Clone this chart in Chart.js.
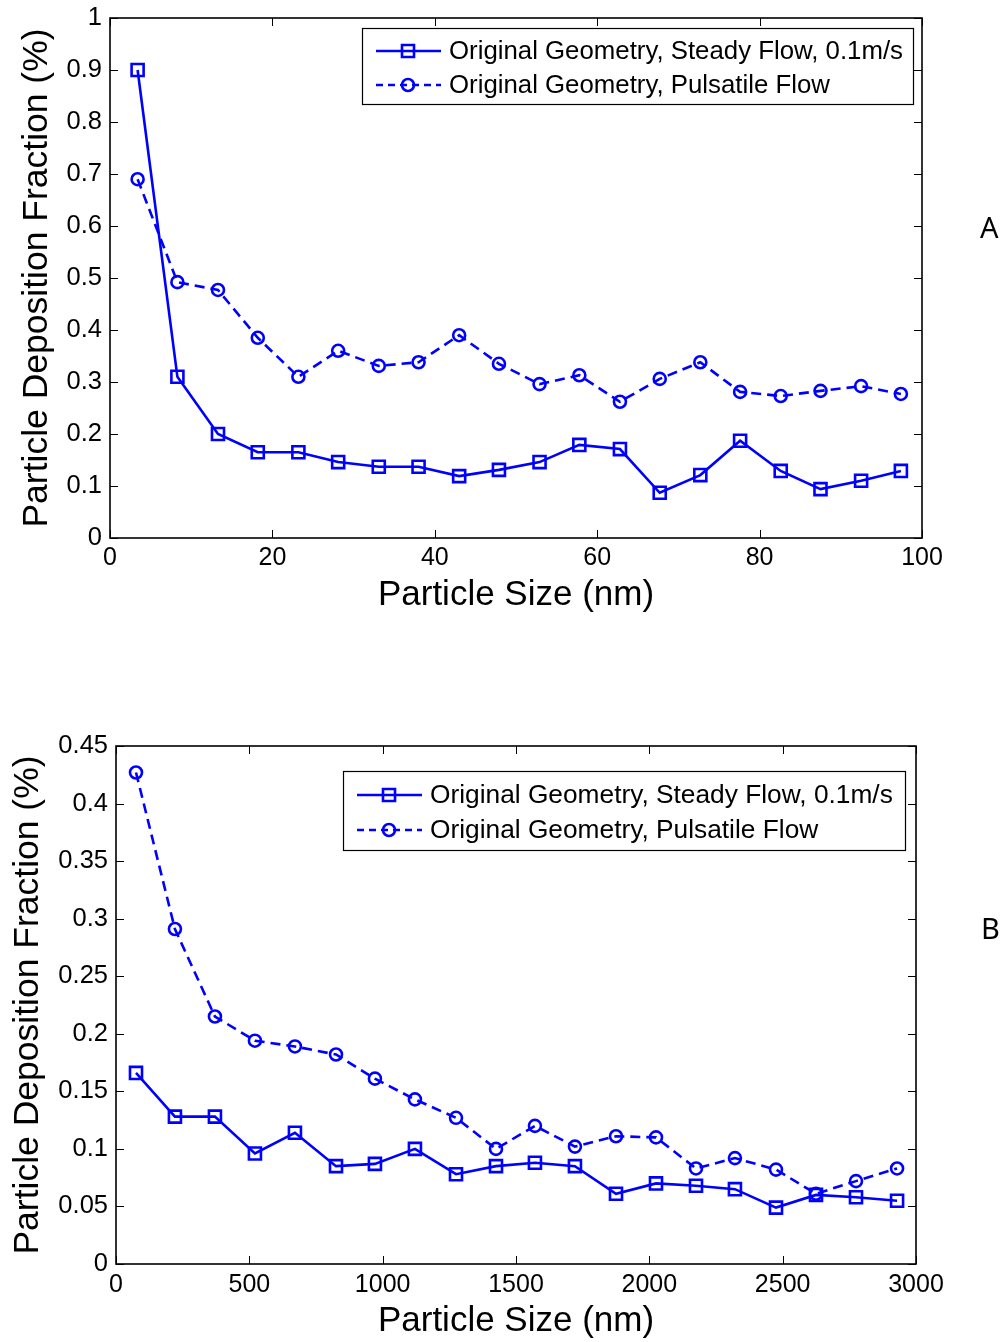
<!DOCTYPE html>
<html>
<head>
<meta charset="utf-8">
<title>Particle Deposition Fraction</title>
<script src="https://cdn.jsdelivr.net/npm/chart.js@4.4.1/dist/chart.umd.min.js"></script>
<style>
  html, body { margin: 0; padding: 0; background: #fff; }
  body { position: relative; width: 1006px; height: 1342px; overflow: hidden; }
  .plot { position: absolute; left: 0; }
  .panel-tag { position: absolute; font-family: "Noto Sans", "Open Sans", sans-serif; font-size: 29px; color: #000; line-height: 1; }
</style>
</head>
<body>
<div class="plot" style="top:0;"><canvas id="chartA" width="1006" height="640"></canvas></div>
<div class="plot" style="top:700px;"><canvas id="chartB" width="1006" height="642"></canvas></div>
<div class="panel-tag" style="left:980px; top:212px;">A</div>
<div class="panel-tag" style="left:981px; top:913px;">B</div>

<script>
// Panel A - nanometre particles
var sizeNmA      = [3.4, 8.3, 13.3, 18.2, 23.2, 28.1, 33.1, 38.0, 43.0, 47.9, 52.9, 57.8, 62.8, 67.7, 72.7, 77.6, 82.6, 87.5, 92.5, 97.4];
var steadyA      = [0.90, 0.31, 0.20, 0.165, 0.165, 0.146, 0.137, 0.137, 0.119, 0.131, 0.146, 0.179, 0.171, 0.087, 0.121, 0.187, 0.129, 0.094, 0.110, 0.129];
var pulsatileA   = [0.69, 0.492, 0.477, 0.385, 0.310, 0.360, 0.331, 0.338, 0.390, 0.335, 0.296, 0.313, 0.262, 0.306, 0.338, 0.281, 0.273, 0.283, 0.292, 0.277];

// Panel B - micron particles
var sizeNmB      = [75, 221, 371, 521, 671, 825, 971, 1121, 1275, 1425, 1571, 1721, 1875, 2025, 2175, 2321, 2475, 2625, 2775, 2929];
var steadyB      = [0.166, 0.128, 0.128, 0.096, 0.114, 0.085, 0.087, 0.100, 0.078, 0.085, 0.088, 0.085, 0.061, 0.070, 0.068, 0.065, 0.049, 0.060, 0.058, 0.055];
var pulsatileB   = [0.427, 0.291, 0.215, 0.194, 0.189, 0.182, 0.161, 0.143, 0.127, 0.100, 0.120, 0.102, 0.111, 0.110, 0.083, 0.092, 0.082, 0.061, 0.072, 0.083];

var seriesLabels = ['Original Geometry, Steady Flow, 0.1m/s', 'Original Geometry, Pulsatile Flow'];
var xTitle       = 'Particle Size (nm)';
var yTitle       = 'Particle Deposition Fraction (%)';

var FONT  = '"Liberation Sans", Arial, sans-serif';
var BLUE  = '#0000ff';
var CLEAR = 'rgba(0,0,0,0)';

function toPoints(xs, ys) {
  return xs.map(function (x, i) { return { x: x, y: ys[i] }; });
}

function makeDatasets(xs, steady, pulsatile) {
  return [
    {
      label           : seriesLabels[0],
      data            : toPoints(xs, steady),
      borderColor     : BLUE,
      borderWidth     : 2.6,
      pointStyle      : 'rect',
      pointRadius     : 8.5,
      pointBorderWidth: 2.6,
      pointBorderColor: BLUE,
      pointBackgroundColor: CLEAR,
      tension         : 0,
      order           : 1
    },
    {
      label           : seriesLabels[1],
      data            : toPoints(xs, pulsatile),
      borderColor     : BLUE,
      borderWidth     : 2.6,
      borderDash      : [10, 6],
      pointStyle      : 'circle',
      pointRadius     : 6,
      pointBorderWidth: 2.6,
      pointBorderColor: BLUE,
      pointBackgroundColor: CLEAR,
      tension         : 0,
      order           : 0
    }
  ];
}

// box around the axes, inward ticks on all four sides and the in-plot legend
var matlabAxes = {
  id: 'matlabAxes',
  afterDraw: function (chart, args, opts) {
    var ctx = chart.ctx, a = chart.chartArea;
    var xs = chart.scales.x, ys = chart.scales.y;
    var tick = 8;
    ctx.save();

    ctx.strokeStyle = '#000';
    ctx.lineWidth = 1;
    ctx.beginPath();
    xs.ticks.forEach(function (t) {
      var px = Math.round(xs.getPixelForValue(t.value)) + 0.5;
      ctx.moveTo(px, a.bottom); ctx.lineTo(px, a.bottom - tick);
      ctx.moveTo(px, a.top);    ctx.lineTo(px, a.top + tick);
    });
    ys.ticks.forEach(function (t) {
      var py = Math.round(ys.getPixelForValue(t.value)) + 0.5;
      ctx.moveTo(a.left, py);  ctx.lineTo(a.left + tick, py);
      ctx.moveTo(a.right, py); ctx.lineTo(a.right - tick, py);
    });
    ctx.stroke();

    ctx.lineWidth = 1.6;
    ctx.strokeRect(a.left, a.top, a.right - a.left, a.bottom - a.top);

    // legend
    var lg = opts.legend;
    var bx = a.left + lg.dx, by = a.top + lg.dy;
    ctx.fillStyle = '#fff';
    ctx.fillRect(bx, by, lg.w, lg.h);
    ctx.lineWidth = 1.2;
    ctx.strokeStyle = '#000';
    ctx.strokeRect(bx + 0.5, by + 0.5, lg.w, lg.h);

    chart.data.datasets.forEach(function (ds, i) {
      var cy = by + lg.rows[i];
      ctx.strokeStyle = BLUE;
      ctx.lineWidth = ds.borderWidth;
      ctx.setLineDash(ds.borderDash ? [7, 5] : []);
      ctx.beginPath();
      ctx.moveTo(bx + 14, cy);
      ctx.lineTo(bx + 79, cy);
      ctx.stroke();
      ctx.setLineDash([]);
      ctx.fillStyle = CLEAR;
      ctx.lineWidth = ds.pointBorderWidth;
      Chart.helpers.drawPoint(ctx, {
        pointStyle : ds.pointStyle,
        radius     : ds.pointRadius,
        borderWidth: ds.pointBorderWidth,
        rotation   : 0
      }, bx + 46, cy);

      ctx.fillStyle = '#000';
      ctx.font = lg.fontSize + 'px ' + FONT;
      ctx.textAlign = 'left';
      ctx.textBaseline = 'middle';
      ctx.fillText(ds.label, bx + 87, cy + 1);
    });

    ctx.restore();
  }
};

function makeOptions(cfg) {
  return {
    responsive : false,
    animation  : false,
    devicePixelRatio: 1,
    layout     : { padding: { top: cfg.padTop, right: cfg.padRight, left: 0, bottom: 0 } },
    plugins    : {
      legend : { display: false },
      tooltip: { enabled: false },
      matlabAxes: { legend: cfg.legend }
    },
    scales: {
      x: {
        type  : 'linear',
        min   : cfg.xMin,
        max   : cfg.xMax,
        grid  : { display: false, drawTicks: false },
        border: { display: false },
        ticks : {
          stepSize: cfg.xStep,
          padding : cfg.xTickPad,
          color   : '#000',
          font    : { family: FONT, size: 25 },
          maxRotation: 0,
          callback: function (v) { return String(v); }
        },
        title : {
          display: true,
          text   : xTitle,
          color  : '#000',
          font   : { family: FONT, size: 35, lineHeight: 1.2 },
          padding: { top: 0, bottom: cfg.xTitlePad }
        },
        afterFit: function (scale) { scale.height = cfg.xAxisHeight; }
      },
      y: {
        type  : 'linear',
        min   : 0,
        max   : cfg.yMax,
        grid  : { display: false, drawTicks: false },
        border: { display: false },
        ticks : {
          stepSize: cfg.yStep,
          padding : 8,
          color   : '#000',
          font    : { family: FONT, size: 25.5 },
          callback: function (v) { return String(+v.toFixed(2)); }
        },
        title : {
          display: true,
          text   : yTitle,
          color  : '#000',
          font   : { family: FONT, size: 35.5, lineHeight: 1.2 },
          padding: { top: cfg.yTitlePad, bottom: 0 }
        },
        afterFit: function (scale) {
          scale.width = cfg.yAxisWidth;
          // the end labels may hang over the box edge; keep the layout padding exact
          scale.paddingTop = 0;
          scale.paddingBottom = 0;
        }
      }
    }
  };
}

new Chart(document.getElementById('chartA').getContext('2d'), {
  type   : 'line',
  data   : { datasets: makeDatasets(sizeNmA, steadyA, pulsatileA) },
  options: makeOptions({
    padTop: 18, padRight: 84,
    xMin: 0, xMax: 100, xStep: 20,
    yMax: 1, yStep: 0.1,
    xAxisHeight: 102, xTitlePad: 24, xTickPad: 5,
    yAxisWidth: 110, yTitlePad: 16,
    legend: { dx: 252, dy: 10, w: 551, h: 76, rows: [23, 57], fontSize: 25.8 }
  }),
  plugins: [matlabAxes]
});

new Chart(document.getElementById('chartB').getContext('2d'), {
  type   : 'line',
  data   : { datasets: makeDatasets(sizeNmB, steadyB, pulsatileB) },
  options: makeOptions({
    padTop: 46, padRight: 90,
    xMin: 0, xMax: 3000, xStep: 500,
    yMax: 0.45, yStep: 0.05,
    xAxisHeight: 78, xTitlePad: 0, xTickPad: 6,
    yAxisWidth: 116, yTitlePad: 7,
    legend: { dx: 227, dy: 25, w: 562, h: 79, rows: [24, 59], fontSize: 26.3 }
  }),
  plugins: [matlabAxes]
});
</script>
</body>
</html>
